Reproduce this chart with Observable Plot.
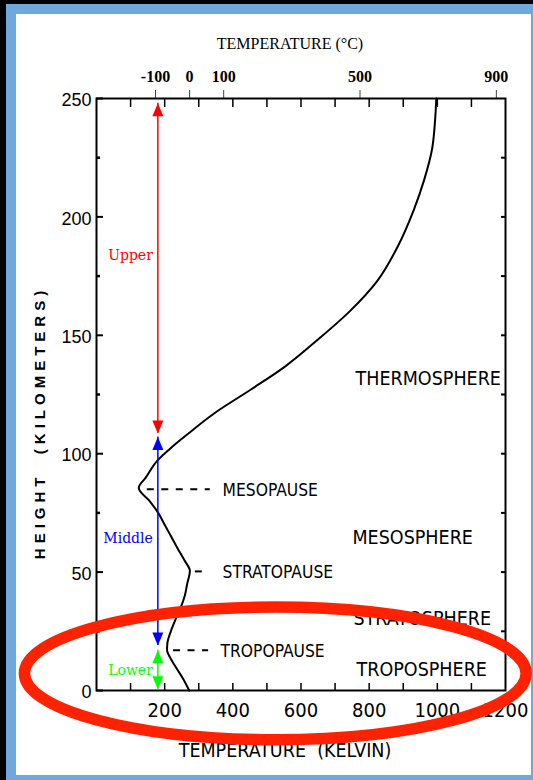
<!DOCTYPE html>
<html>
<head>
<meta charset="utf-8">
<script src="https://cdn.jsdelivr.net/npm/d3@7"></script>
<script src="https://cdn.jsdelivr.net/npm/@observablehq/plot@0.6"></script>
<style>
  html, body { margin: 0; padding: 0; background: #fff; }
  #page { position: relative; width: 533px; height: 780px; background: #6fa8dc; overflow: hidden; }
  #page .edge-top { position: absolute; left: 0; top: 0; width: 533px; height: 4px; background: #000; }
  #page .edge-left { position: absolute; left: 0; top: 0; width: 6px; height: 780px; background: #000; }
  #page .sheet { position: absolute; left: 16px; top: 14px; width: 515px; height: 761px; background: #fff; }
  #chart { position: absolute; left: 0; top: 0; }
</style>
</head>
<body>
<div id="page">
  <div class="edge-top"></div>
  <div class="edge-left"></div>
  <div class="sheet"></div>
  <div id="chart"></div>
</div>
<script>
// Standard temperature profile of the atmosphere
const heightKm = [0, 5, 10, 15, 17, 20, 25, 30, 35, 40, 45, 50.5, 55, 60, 65, 70, 75, 80, 85.5, 90, 97, 102, 108, 117, 127, 137, 148, 160, 173, 187, 203, 215, 229, 240, 250];
const tempK    = [272, 254, 232, 212, 207, 208, 218, 232, 247, 259, 266, 274, 258, 238, 219, 200, 181, 156, 124, 145, 178, 215, 265, 345, 452, 555, 648, 742, 824, 882, 931, 960, 985, 993, 997];

// Axis ticks
const heightTicks = [0, 50, 100, 150, 200, 250];
const heightMinorTicks = [25, 75, 125, 175, 225];
const heightRightTicks = [25, 50, 75, 100, 125, 150, 175, 200, 225];
const kelvinLabels = [200, 400, 600, 800, 1000, 1200];
const kelvinTicks = [100, 200, 300, 400, 500, 600, 700, 800, 900, 1000, 1100];
const celsiusTicks = [-100, 0, 100, 500, 900];

// Layer names
const layerNames = ["THERMOSPHERE", "MESOSPHERE", "STRATOSPHERE", "TROPOSPHERE"];
const layerKm = [131.8, 64.6, 30.4, 8.9];
const layerK = [760, 751, 754, 763];

// Boundaries between layers, with dashed leaders
const pauseNames = ["MESOPAUSE", "STRATOPAUSE", "TROPOPAUSE"];
const pauseKm = [85, 50.3, 17];
const pauseLeaderFromK = [149, 290, 226];
const pauseLeaderToK = [334, 329, 329];
const pauseTextK = [370, 370, 364];

// Upper / middle / lower spans
const regionNames = ["Upper", "Middle", "Lower"];
const regionColors = ["#ff0000", "#0000ff", "#00ff00"];
const regionTopKm = [248, 107, 17];
const regionBottomKm = [108.5, 19, 0.5];
const regionLabelKm = [183.7, 64, 8.5];
const regionK = 180;

// Highlight ring round the lowest layer (extends past the frame)
const highlightK = [-210, 1262];
const highlightKm = [-21, 35];

const profile = heightKm.map((km, i) => ({km, k: tempK[i]}));
const layers = layerNames.map((name, i) => ({name, km: layerKm[i], k: layerK[i]}));
const pauses = pauseNames.map((name, i) => ({name, km: pauseKm[i], k0: pauseLeaderFromK[i], k1: pauseLeaderToK[i], kt: pauseTextK[i]}));
const regions = regionNames.map((name, i) => ({name, color: regionColors[i], top: regionTopKm[i], bottom: regionBottomKm[i], labelKm: regionLabelKm[i], k: regionK}));

// Arrow heads with their tip at the origin
const headUp = {draw(ctx) { ctx.moveTo(0, 0); ctx.lineTo(5.5, 13); ctx.lineTo(-5.5, 13); ctx.closePath(); }};
const headDown = {draw(ctx) { ctx.moveTo(0, 0); ctx.lineTo(5.5, -13); ctx.lineTo(-5.5, -13); ctx.closePath(); }};

const sans = "'Liberation Sans Narrow', 'DejaVu Sans Condensed', 'Liberation Sans', sans-serif";
const plain = "'Liberation Sans', sans-serif";
const serif = "'Liberation Serif', 'DejaVu Serif', serif";

const ring = (index, {x, y}) => {
  const el = document.createElementNS("http://www.w3.org/2000/svg", "ellipse");
  const x0 = x(highlightK[0]), x1 = x(highlightK[1]);
  const y0 = y(highlightKm[0]), y1 = y(highlightKm[1]);
  el.setAttribute("cx", (x0 + x1) / 2);
  el.setAttribute("cy", (y0 + y1) / 2);
  el.setAttribute("rx", Math.abs(x1 - x0) / 2);
  el.setAttribute("ry", Math.abs(y1 - y0) / 2);
  el.setAttribute("fill", "none");
  el.setAttribute("stroke", "#ff2200");
  el.setAttribute("stroke-width", 11.5);
  return el;
};

const chart = Plot.plot({
  width: 533,
  height: 780,
  marginTop: 98,
  marginBottom: 90,
  marginLeft: 96,
  marginRight: 28,
  style: {background: "none", fontFamily: sans, color: "black"},
  x: {domain: [0, 1200]},
  y: {domain: [0, 250]},
  marks: [
    // left axis: labels and inward ticks
    Plot.axisY(heightTicks, {anchor: "left", tickSize: 0, tickPadding: 5, fontSize: 18, fontFamily: plain, dy: 2}),
    Plot.axisY(heightTicks, {anchor: "left", tickSize: -7, strokeWidth: 2, tickFormat: () => ""}),
    Plot.axisY(heightMinorTicks, {anchor: "left", tickSize: -4, strokeWidth: 2.5, tickFormat: () => ""}),
    Plot.axisY(heightRightTicks, {anchor: "right", tickSize: -5, strokeWidth: 2, tickFormat: () => ""}),
    // bottom axis (kelvin)
    Plot.axisX(kelvinLabels, {anchor: "bottom", tickSize: 0, tickPadding: 12, fontSize: 20, fontFamily: sans, tickFormat: d => String(d)}),
    Plot.axisX(kelvinTicks, {anchor: "bottom", tickSize: -7, strokeWidth: 1.5, tickFormat: () => ""}),
    // top axis: kelvin ticks inside, celsius ticks and labels outside
    Plot.axisX(kelvinTicks, {anchor: "top", tickSize: -8, strokeWidth: 1.5, tickFormat: () => ""}),
    Plot.axisX(celsiusTicks.map(c => c + 273.15), {
      anchor: "top", tickSize: 9, tickPadding: 8, stroke: "#444", strokeWidth: 1,
      fontSize: 16, fontWeight: "bold", fontFamily: serif,
      tickFormat: k => String(Math.round(k - 273.15))
    }),
    Plot.frame({stroke: "black", strokeWidth: 2}),

    // axis titles
    Plot.text(["TEMPERATURE (°C)"], {frameAnchor: "top", lineAnchor: "middle", textAnchor: "middle", dy: -55, dx: -11, fontSize: 16, fontFamily: serif}),
    Plot.text(["TEMPERATURE\u00a0\u00a0(KELVIN)"], {frameAnchor: "bottom", lineAnchor: "middle", textAnchor: "middle", dy: 60, dx: -16, fontSize: 19.5, fontFamily: sans}),
    Plot.text(["HEIGHT\u00a0\u00a0(KILOMETERS)"], {frameAnchor: "left", lineAnchor: "middle", textAnchor: "middle", rotate: -90, dx: -56, dy: 28, fontSize: 15, fontWeight: "bold", fontFamily: plain}),

    // temperature profile
    Plot.line(profile, {x: "k", y: "km", curve: "monotone-y", stroke: "black", strokeWidth: 2}),

    // layer boundaries
    Plot.ruleY(pauses, {y: "km", x1: "k0", x2: "k1", stroke: "black", strokeWidth: 2, strokeDasharray: "7,7.5"}),
    Plot.text(pauses, {x: "kt", y: "km", text: "name", textAnchor: "start", dy: 1, fontSize: 17.3, fontFamily: sans}),

    // layer names
    Plot.text(layers, {x: "k", y: "km", text: "name", textAnchor: "start", fontSize: 19.5, fontFamily: sans}),

    // upper / middle / lower spans
    Plot.ruleX(regions, {x: "k", y1: "bottom", y2: "top", stroke: "color", strokeWidth: 1.5}),
    Plot.dot(regions, {x: "k", y: "top", symbol: headUp, fill: "color", stroke: "none", r: 5}),
    Plot.dot(regions, {x: "k", y: "bottom", symbol: headDown, fill: "color", stroke: "none", r: 5}),
    Plot.text(regions, {x: "k", y: "labelKm", text: "name", fill: "color", textAnchor: "end", dx: -5, fontSize: 14, fontFamily: "'DejaVu Serif', serif"}),

    // highlight ring
    ring
  ]
});

// the vertical axis title is set in widely spaced capitals
d3.select(chart).selectAll("text")
  .filter(function() { return this.textContent.startsWith("HEIGHT"); })
  .attr("letter-spacing", 5);

document.getElementById("chart").append(chart);
</script>
</body>
</html>
